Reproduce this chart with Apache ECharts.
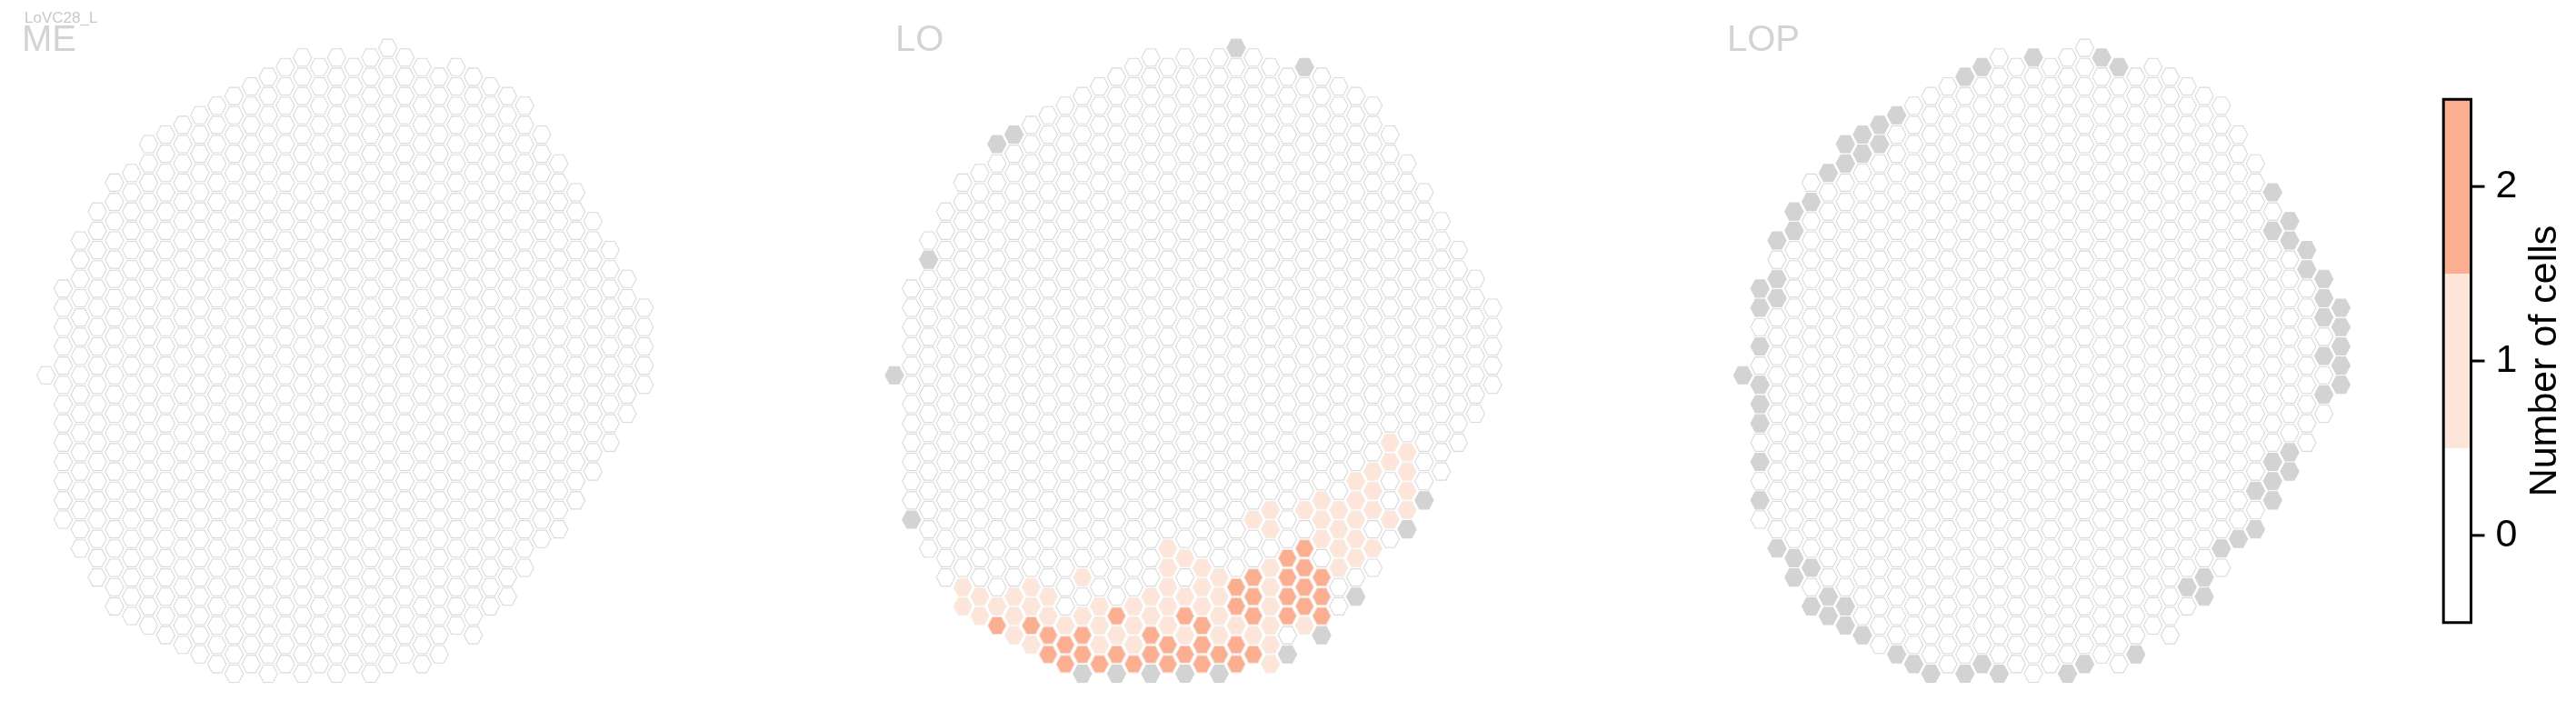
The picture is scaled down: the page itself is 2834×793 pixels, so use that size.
<!DOCTYPE html>
<html><head><meta charset="utf-8">
<script src="https://cdn.jsdelivr.net/npm/echarts@6/dist/echarts.min.js"></script>
<style>html,body{margin:0;padding:0;background:#fff}#chart{width:2834px;height:793px}</style>
</head><body><div id="chart"></div>
<script>
// Hex column grid shared by ME / LO / LOP: first and last half-row index per column
const colTop    = [0,-9,-14,-17,-20,-21,-24,-25,-26,-27,-28,-29,-30,-31,-32,-33,-32,-33,-32,-33,-34,-33,-32,-31,-32,-31,-30,-29,-28,-25,-22,-19,-16,-13,-10,-7];
const colBottom = [0,15,18,21,24,25,26,27,28,29,30,31,30,31,30,31,30,31,30,31,30,29,30,29,26,27,24,23,20,17,16,13,10,7,4,1];

// cells per panel, written as [column, row, row, ...]
const meGray = [];
const meOnes = [];
const meTwos = [];

const loGray = [[0,0],[1,15],[2,-12],[6,-24],[7,-25],[11,31],[13,31],[15,31],[17,31],[19,31],[20,-34],[23,29],[24,-32],[25,27],[27,23],[30,16],[31,13]];
const loOnes = [[4,22,24],[5,23,25],[6,24],[7,23,25,27],[8,22,24,28],[9,23,25],[10,26],[11,21,25],[12,24,26,28],[13,27],[14,24,26,28],[15,23,25],[16,18,20,22,24,26],[17,19,23,27],[18,20,22,24],[19,21,23,25,27],[20,26],[21,15,27],[22,14,16,20,22,24,26,28,30],[24,14,26],[25,13,15,17],[26,14,16,18,20],[27,11,13,15,17,19],[28,10,12,14,18],[29,7,9,15],[30,8,10,12,14]];
const loTwos = [[6,26],[8,26],[9,27,29],[10,28,30],[11,27,29],[12,30],[13,25,29],[14,30],[15,27,29],[16,28,30],[17,25,29],[18,26,28,30],[19,29],[20,22,24,28,30],[21,21,23,25,29],[23,19,21,23,25],[24,18,20,22,24],[25,21,23,25]];

const lopGray = [[0,0],[1,-9,-7,-3,1,3,5,9,13],[2,-14,-10,-8,18],[3,-17,-15,19,21],[4,-18,20,24],[5,-21,23,25],[6,-24,-22,24,26],[7,-25,-23,27],[8,-26,-24],[9,-27,29],[10,30],[11,31],[13,-31,31],[14,-32,30],[15,31],[17,-33],[19,31],[20,30],[21,-33],[22,-32],[23,29],[26,22],[27,21,23],[28,18],[29,17],[30,12,16],[31,-19,-15,9,11,13],[32,-16,-14,8,10],[33,-13,-11],[34,-10,-8,-6,-2,2],[35,-7,-5,-3,-1,1]];
const lopOnes = [];
const lopTwos = [];

const panelNames = ['ME','LO','LOP'];
const colorbarTicks = [0,1,2];
const colorbarTitle = 'Number of cells';
const cellTypeLabel = 'LoVC28_L';

const FILL = {'-1':'#d3d3d3','0':'#ffffff','1':'#fee5d9','2':'#fcae91'};
const STROKE = {'-1':'#d3d3d3','0':'#dadada','1':'#f6ece8','2':'#f6e2da'};

function buildData(gray, ones, twos){
  const st = {};
  const put = (list, s) => list.forEach(r => { for (let i=1;i<r.length;i++) st[r[0]+','+r[i]] = s; });
  put(gray,-1); put(ones,1); put(twos,2);
  const out = [];
  for (let c=0;c<colTop.length;c++)
    for (let v=colTop[c]; v<=colBottom[c]; v+=2)
      out.push([c, v, st[c+','+v] !== undefined ? st[c+','+v] : 0]);
  return out;
}
const panelData = [
  buildData(meGray, meOnes, meTwos),
  buildData(loGray, loOnes, loTwos),
  buildData(lopGray, lopOnes, lopTwos)
];

// layout (pixels)
const DX = 18.8, DV = 10.59, ROW0 = 412.7;
const panelX0 = [50.7, 984.0, 1917.4];
const FONT = '"Liberation Sans", Arial, sans-serif';
const TICK_LEN = 15;

function renderHex(params, api){
  const c = api.value(0), v = api.value(1), s = api.value(2);
  const p = api.coord([c, v]);
  const sz = api.size([1, 1]);
  const hw = sz[0]*0.54, hh = sz[1]*0.897, qw = hw/2;
  return {
    type:'polygon',
    shape:{points:[[p[0]-hw,p[1]],[p[0]-qw,p[1]-hh],[p[0]+qw,p[1]-hh],[p[0]+hw,p[1]],[p[0]+qw,p[1]+hh],[p[0]-qw,p[1]+hh]]},
    style:{fill:FILL[s], stroke:STROKE[s], lineWidth:1.1}
  };
}

const grids = panelX0.map(x0 => ({left:x0-DX, top:ROW0-36*DV, width:37*DX, height:70*DV}));
grids.push({left:2688.2, top:109.2, width:30.3, height:575.6});

const xAxes = panelX0.map((x0,i)=>({type:'value', gridIndex:i, min:-1, max:36, show:false}));
xAxes.push({type:'value', gridIndex:3, min:0, max:1, show:false});
const yAxes = panelX0.map((x0,i)=>({type:'value', gridIndex:i, min:-36, max:34, inverse:true, show:false}));
yAxes.push({
  type:'value', gridIndex:3, min:-0.5, max:2.5, position:'right',
  splitLine:{show:false},
  axisLine:{show:false},
  axisTick:{show:false},
  axisLabel:{show:true, fontSize:43, color:'#000', margin:27, fontFamily:FONT, customValues:colorbarTicks},
  name:colorbarTitle, nameLocation:'middle', nameRotate:90, nameGap:60,
  nameTextStyle:{fontSize:43, color:'#000', fontFamily:FONT}
});

const series = panelData.map((d,i)=>({
  type:'custom', xAxisIndex:i, yAxisIndex:i, renderItem:renderHex, data:d, silent:true, animation:false
}));
// colour bands of the colour bar, each with its tick mark
series.push({
  type:'custom', xAxisIndex:3, yAxisIndex:3, silent:true, animation:false, z:1,
  data:colorbarTicks.map(t=>[t]),
  renderItem:function(params, api){
    const t = api.value(0);
    const a = api.coord([0, t+0.5]), b = api.coord([1, t-0.5]);
    const m = api.coord([1, t]);
    return {type:'group', children:[
      {type:'rect', shape:{x:a[0], y:a[1], width:b[0]-a[0], height:b[1]-a[1]}, style:{fill:FILL[t]}},
      {type:'line', shape:{x1:m[0], y1:m[1], x2:m[0]+TICK_LEN, y2:m[1]}, style:{stroke:'#000', lineWidth:3}}
    ]};
  }
});
// frame of the colour bar
series.push({
  type:'custom', xAxisIndex:3, yAxisIndex:3, silent:true, animation:false, z:5,
  data:[[0]],
  renderItem:function(params, api){
    const a = api.coord([0, 2.5]), b = api.coord([1, -0.5]);
    return {type:'rect', shape:{x:a[0], y:a[1], width:b[0]-a[0], height:b[1]-a[1]}, style:{fill:'none', stroke:'#000', lineWidth:3}};
  }
});

const titleLeft = [24, 985, 1900];
const titles = panelNames.map((n,i)=>({text:n, left:titleLeft[i], top:25, padding:0,
  textStyle:{fontSize:40, color:'#d3d3d3', fontWeight:'normal', fontFamily:FONT}}));
titles.push({text:cellTypeLabel, left:27, top:12, padding:0,
  textStyle:{fontSize:17, color:'#c8c8c8', fontWeight:'normal', fontFamily:FONT}});

const chart = echarts.init(document.getElementById('chart'), null, {renderer:'canvas'});
chart.setOption({
  backgroundColor:'#ffffff', animation:false,
  title:titles, grid:grids, xAxis:xAxes, yAxis:yAxes, series:series
});
</script></body></html>
